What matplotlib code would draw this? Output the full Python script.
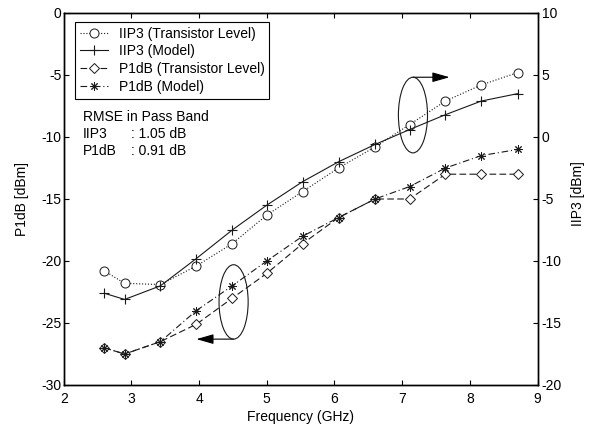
import numpy as np
import matplotlib
matplotlib.use('Agg')
import matplotlib.pyplot as plt
from matplotlib.patches import Ellipse

plt.rcParams.update({
    'font.family': 'Liberation Sans',
    'font.size': 10,
    'axes.linewidth': 1.0,
    'axes.unicode_minus': False,
})

# ── data ──────────────────────────────────────────────────────────────────────
freq     = [2.6, 2.9, 3.43, 3.96, 4.49, 5.0, 5.53, 6.06, 6.6, 7.11, 7.64, 8.17, 8.71]
iip3_tr  = [-10.8, -11.8, -11.9, -10.4, -8.6, -6.3, -4.4, -2.5, -0.8, 1.0, 2.9, 4.2, 5.2]
iip3_mod = [-12.6, -13.1, -12.0, -9.8, -7.5, -5.5, -3.6, -2.0, -0.6, 0.6, 1.8, 2.9, 3.5]
p1db_tr  = [-27.0, -27.5, -26.5, -25.1, -23.0, -21.0, -18.6, -16.5, -15.0, -15.0, -13.0, -13.0, -13.0]
p1db_mod = [-27.0, -27.5, -26.5, -24.0, -22.0, -20.0, -18.0, -16.5, -15.0, -14.0, -12.5, -11.5, -11.0]

W, H = 591, 428
fig = plt.figure(figsize=(W / 100, H / 100), dpi=100)
L, R, T, B = 63.7, 537.5, 13.0, 385.0
ax = fig.add_axes([L / W, 1 - B / H, (R - L) / W, (B - T) / H])
ax2 = ax.twinx()

LW = 0.8
INK = '#1a1a1a'
asterisk = (8, 2, 0)

h1, = ax2.plot(freq, iip3_tr, ls=':', color=INK, lw=LW, marker='o', ms=6.5,
               mfc='white', mec=INK, mew=0.7, label='IIP3 (Transistor Level)')
h2, = ax2.plot(freq, iip3_mod, ls='-', color=INK, lw=LW, marker='+', ms=7,
               mew=0.8, label='IIP3 (Model)')
h3, = ax.plot(freq, p1db_tr, ls=(0, (6, 3)), color=INK, lw=LW, marker='D', ms=5.5,
              mfc='white', mec=INK, mew=0.7, label='P1dB (Transistor Level)')
h4, = ax.plot(freq, p1db_mod, ls=(0, (6, 2.5, 1, 2.5)), color=INK, lw=LW,
              marker=asterisk, ms=6, mew=0.7, label='P1dB (Model)')

ax.set_xlim(2, 9)
ax.set_ylim(-30, 0)
ax2.set_ylim(-20, 10)
ax.set_xticks(range(2, 10))
ax.set_yticks(range(-30, 1, 5))
ax2.set_yticks(range(-20, 11, 5))

ax.tick_params(direction='in', top=True, right=False, length=3.5, width=0.8)
ax.tick_params(axis='y', pad=1.5)
ax.tick_params(axis='x', pad=5)
ax2.tick_params(direction='in', length=3.5, width=0.8, pad=3)

ax.set_xlabel('Frequency (GHz)')
ax.set_ylabel('P1dB [dBm]')
ax2.set_ylabel('IIP3 [dBm]')
ax.xaxis.set_label_coords(0.5, -0.068)
ax.yaxis.set_label_coords(-0.073, 0.5)
ax2.yaxis.set_label_coords(1.07, 0.515)

# ellipses and arrows
ax.add_patch(Ellipse((4.51, -23.3), 0.43, 6.0, fc='none', ec=INK, lw=LW, zorder=5))
ax.add_patch(Ellipse((7.16, -8.23), 0.43, 6.1, fc='none', ec=INK, lw=LW, zorder=5))
arrow = dict(arrowstyle='-|>,head_length=1.05,head_width=0.3', color='black', lw=LW,
             shrinkA=0, shrinkB=0, mutation_scale=10)
ax.annotate('', xy=(3.96, -26.3), xytext=(4.51, -26.3), arrowprops=arrow)
ax.annotate('', xy=(7.70, -5.18), xytext=(7.16, -5.18), arrowprops=arrow)

leg = ax2.legend(handles=[h1, h2, h3, h4], loc='upper left',
                 bbox_to_anchor=((75 - L) / (R - L), 1 - (21.7 - T) / (B - T)),
                 borderaxespad=0, fancybox=False, framealpha=1, edgecolor='black',
                 borderpad=0.35, labelspacing=0.27, handlelength=2.0, handletextpad=0.8,
                 fontsize=10)
leg.get_frame().set_linewidth(0.8)

# RMSE annotation
fig.text(82.7 / W, 1 - 117 / H, 'RMSE in Pass Band', va='center')
fig.text(82.7 / W, 1 - 134 / H, 'IIP3', va='center')
fig.text(130.7 / W, 1 - 134 / H, ': 1.05 dB', va='center')
fig.text(82.7 / W, 1 - 151 / H, 'P1dB', va='center')
fig.text(130.7 / W, 1 - 151 / H, ': 0.91 dB', va='center')

fig.savefig('out.png', dpi=100)
